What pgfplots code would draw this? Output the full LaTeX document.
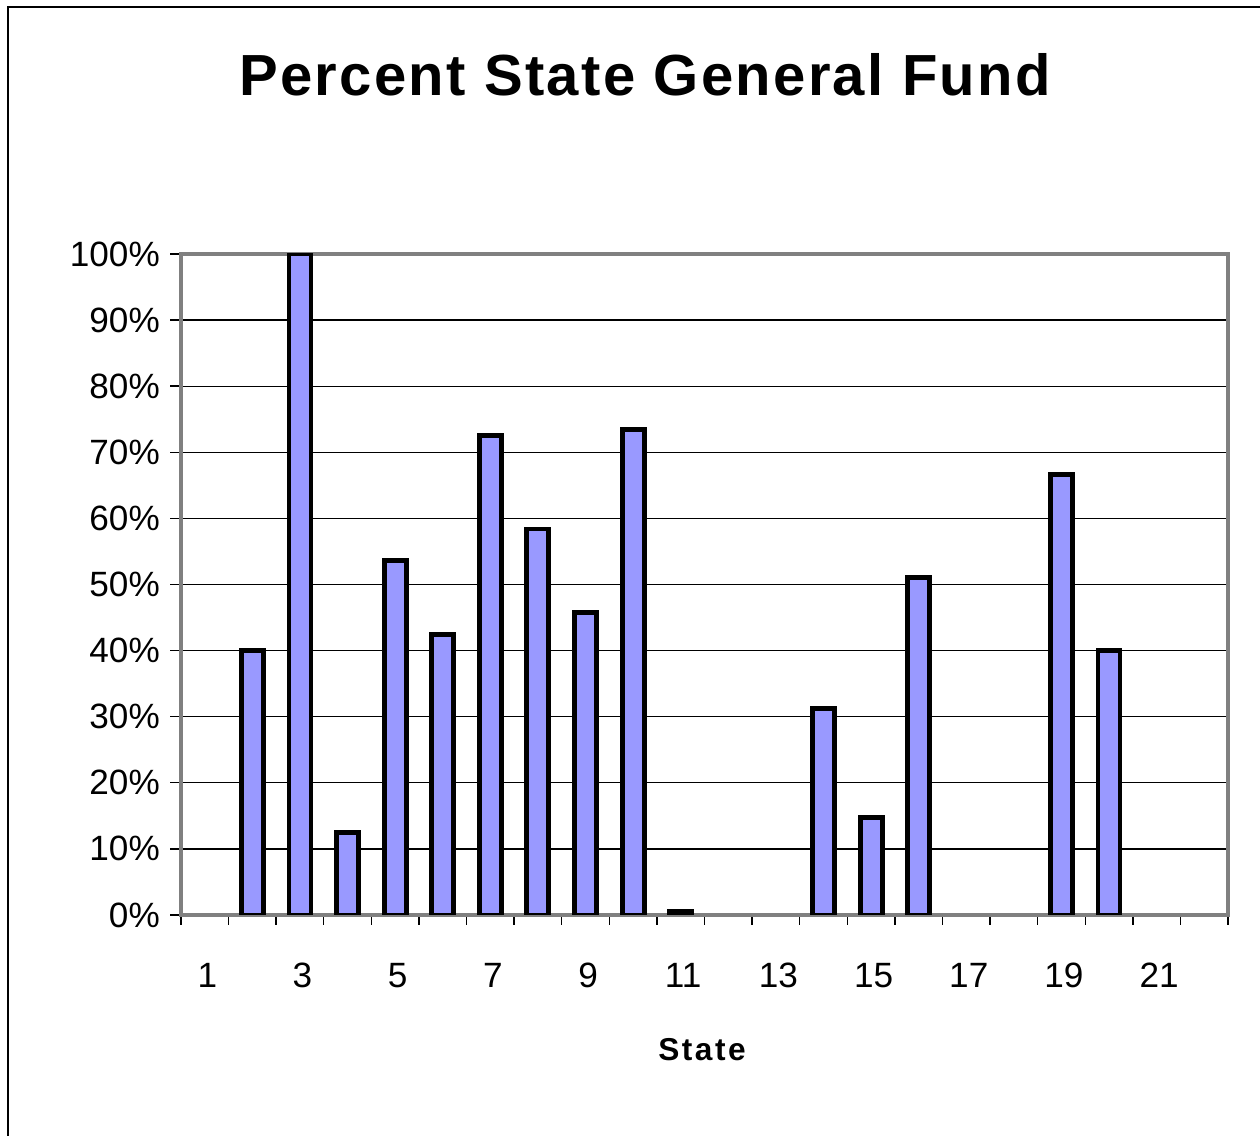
\documentclass[border=0pt]{standalone}
\usepackage{fontspec}
\setmainfont{Liberation Sans}
\newfontfamily\spaced[LetterSpace=4]{Liberation Sans}
\newfontfamily\spacedsmall[LetterSpace=8]{Liberation Sans}
\usepackage{pgfplots}
\pgfplotsset{compat=1.18}
\definecolor{barblue}{HTML}{9999FF}
\definecolor{framegray}{HTML}{808080}

\begin{document}
\begin{tikzpicture}
\useasboundingbox (0,0) rectangle (25.2,22.72);
% outer chart frame (left and top edges visible)
\draw[line width=0.8pt] (0.16,-0.2) -- (0.16,22.58) -- (25.4,22.58);
\node[font=\spaced\bfseries\fontsize{33}{36}\selectfont] at (12.9,21.22) {Percent State General Fund};
\node[font=\spacedsmall\bfseries\fontsize{18}{20}\selectfont] at (14.04,1.72) {State};
\begin{axis}[
    at={(3.62cm,4.42cm)}, anchor=south west,
    width=20.94cm, height=13.22cm, scale only axis,
    ybar, bar width=0.44cm,
    xmin=0.5, xmax=22.5, ymin=0, ymax=100,
    xtick={1,3,...,21},
    xticklabels={1,3,5,7,9,11,13,15,17,19,21},
    minor xtick={0.5,1.5,...,22.5},
    major x tick style={draw=none},
    ytick={0,10,...,100},
    yticklabels={0\%,10\%,20\%,30\%,40\%,50\%,60\%,70\%,80\%,90\%,100\%},
    xtick pos=bottom, ytick pos=left,
    tick align=outside,
    major tick length=0.22cm, minor tick length=0.2cm,
    tick style={black, line width=0.8pt},
    ymajorgrids,
    major grid style={black, line width=0.7pt},
    axis line style={draw=framegray, line width=2pt},
    ticklabel style={font=\fontsize{20}{24}\selectfont},
    xticklabel style={yshift=-0.62cm, xshift=0.05cm},
    yticklabel style={xshift=-0.08cm},
]
\addplot[fill=barblue, draw=black, line width=2.8pt] coordinates {
    (2,40) (3,100) (4,12.5) (5,53.6) (6,42.5) (7,72.6) (8,58.4)
    (9,45.7) (10,73.5) (11,0.5) (14,31.3) (15,14.7) (16,51.1)
    (19,66.7) (20,40)
};
\end{axis}
\end{tikzpicture}
\end{document}
